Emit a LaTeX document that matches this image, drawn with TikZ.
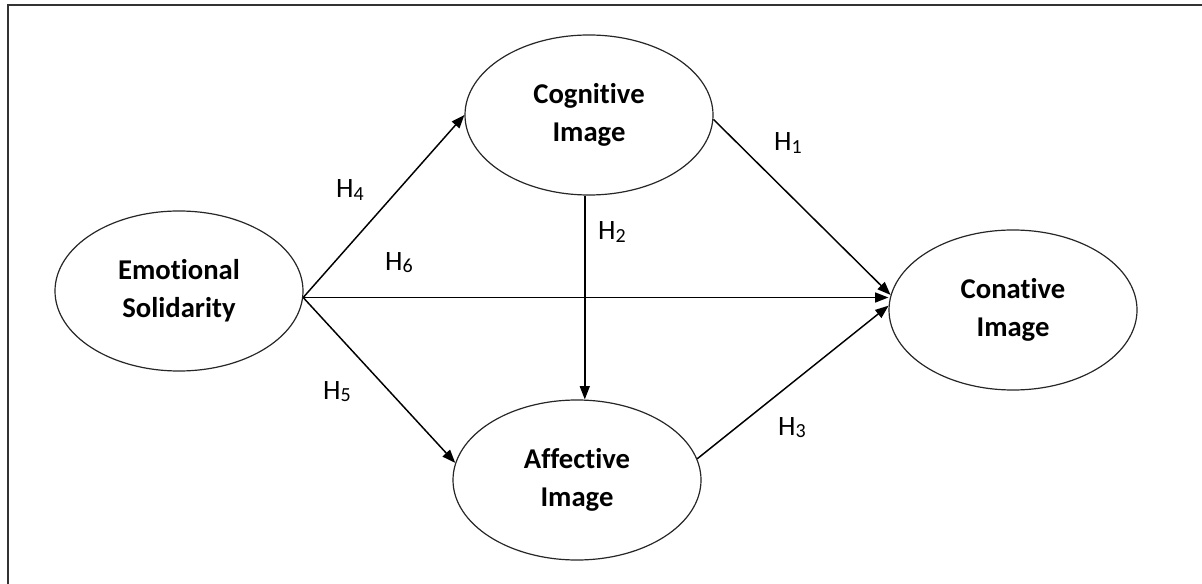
\documentclass[tikz,border=0pt]{standalone}
\usepackage{fontspec}
\setmainfont{Carlito}[Ligatures=NoCommon]
\usetikzlibrary{shapes.geometric,arrows.meta}
\newcommand{\hsub}[1]{H{\fontsize{15}{15}\selectfont\raisebox{-1.6pt}{#1}}}

\begin{document}
\begin{tikzpicture}[x=0.75pt,y=0.75pt,yscale=-1,xscale=1,
  construct/.style={ellipse,draw=black!85,line width=0.9pt,align=center,inner sep=0pt,minimum width=186pt,minimum height=120pt,font=\fontsize{21.5}{28.5}\selectfont\bfseries},
  hyparrow/.style={line width=1.1pt,-{Triangle[length=10pt,width=7.5pt]}},
  hyp/.style={inner sep=0.75pt,font=\fontsize{21}{25}\selectfont}]
\useasboundingbox (0,0) rectangle (1202,584);
%Frame (cut at right and bottom)
\draw [color=black!80, line width=1.8pt] (8,584) -- (8,5) -- (1202,5) ;
%Shape: Ellipse
\node [construct] (emo) at (179,291) {Emotional\\Solidarity};
%Shape: Ellipse
\node [construct] (cog) at (589,115) {Cognitive\\Image};
%Shape: Ellipse
\node [construct] (aff) at (577,480) {Affective\\Image};
%Shape: Ellipse
\node [construct] (con) at (1013,310) {Conative\\Image};
%Straight Lines
\draw [hyparrow] (emo.-3) -- (cog.west) ;
\draw [hyparrow] (emo.-3) -- (emo.-3 -| con.west) ;
\draw [hyparrow] (emo.-3) -- (aff.172) ;
\draw [hyparrow] (cog.-93) -- (cog.-93 |- aff.north) ;
\draw [hyparrow] (cog.-2) -- (con.173) ;
\draw [hyparrow] (aff.10) -- (con.178) ;
% Text Node
\node [hyp] (h1) at (788,143) {\hsub{1}};
% Text Node
\node [hyp] (h2) at (612,232) {\hsub{2}};
% Text Node
\node [hyp] (h3) at (792,428) {\hsub{3}};
% Text Node
\node [hyp] (h4) at (350,190) {\hsub{4}};
% Text Node
\node [hyp] (h5) at (337,392) {\hsub{5}};
% Text Node
\node [hyp] (h6) at (399,263) {\hsub{6}};
\end{tikzpicture}
\end{document}
